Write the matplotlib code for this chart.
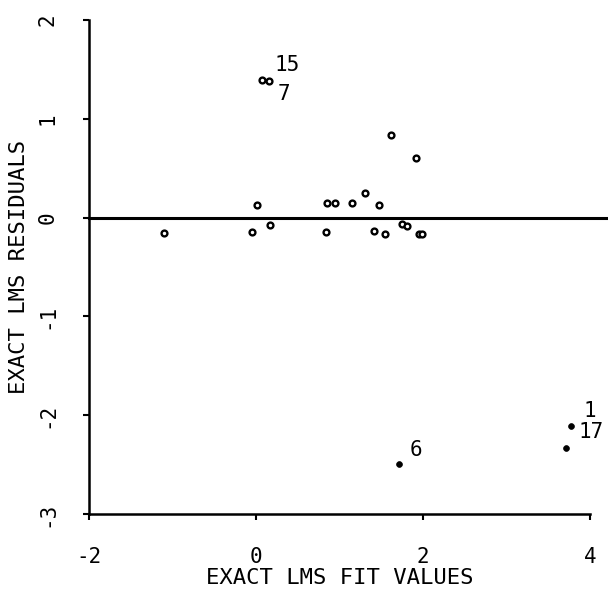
import matplotlib
matplotlib.use("Agg")
import matplotlib.pyplot as plt

plt.rcParams['font.family'] = ['DejaVu Sans Mono', 'DejaVu Sans']
plt.rcParams['axes.unicode_minus'] = False

# fitted values and residuals for the ordinary points (open circles)
fit_open = [0.07, 0.16, 1.62, 1.92, 0.85, 0.95, 1.15, 1.31, 1.47, 0.84,
            1.41, 1.54, 1.75, 1.81, 1.95, 1.99, 0.01, -0.05, 0.17, -1.10]
res_open = [1.39, 1.38, 0.84, 0.60, 0.15, 0.15, 0.15, 0.25, 0.13, -0.15,
            -0.14, -0.17, -0.07, -0.09, -0.17, -0.17, 0.13, -0.15, -0.08, -0.16]

# outlying points (filled dots)
fit_out = [1.71, 3.77, 3.71]
res_out = [-2.49, -2.11, -2.33]

# labelled observations: (label, x, y, offset in points)
obs_labels = ["15", "7", "6", "1", "17"]
obs_x = [0.07, 0.16, 1.71, 3.77, 3.71]
obs_y = [1.39, 1.38, -2.49, -2.11, -2.33]
obs_off = [(9, 11), (6, -9), (8, 10), (9, 11), (9, 11)]

xticks = [-2, 0, 2, 4]
yticks = [-3, -2, -1, 0, 1, 2]

fig = plt.figure(figsize=(6.08, 6.01), dpi=100)
ax = fig.add_axes([0.1464, 0.1448, 0.824, 0.822])

ax.plot(fit_open, res_open, 'o', ms=4.2, mfc='white', mec='black', mew=1.7, ls='none')
ax.plot(fit_out, res_out, 'o', ms=4.2, mfc='black', mec='black', mew=0.5, ls='none')
ax.axhline(0, xmin=0, xmax=1.035, color='black', lw=2.2, clip_on=False)

for lab, x, y, off in zip(obs_labels, obs_x, obs_y, obs_off):
    ax.annotate(lab, (x, y), xytext=off, textcoords='offset points',
                ha='left', va='center', fontsize=15)

ax.set_xlim(-2, 4)
ax.set_ylim(-3, 2)
ax.set_xticks(xticks)
ax.set_yticks(yticks)
ax.spines['top'].set_visible(False)
ax.spines['right'].set_visible(False)
ax.spines['left'].set_linewidth(1.8)
ax.spines['bottom'].set_linewidth(1.8)
ax.tick_params(axis='both', direction='out', length=4.5, width=1.5, labelsize=15)
ax.tick_params(axis='x', pad=19)
ax.tick_params(axis='y', pad=18, labelrotation=90)
for t in ax.get_yticklabels():
    t.set_va('center')

ax.set_xlabel('EXACT LMS FIT VALUES', fontsize=16, labelpad=1)
ax.set_ylabel('EXACT LMS RESIDUALS', fontsize=16, labelpad=6)

fig.savefig('out.png', dpi=100)
